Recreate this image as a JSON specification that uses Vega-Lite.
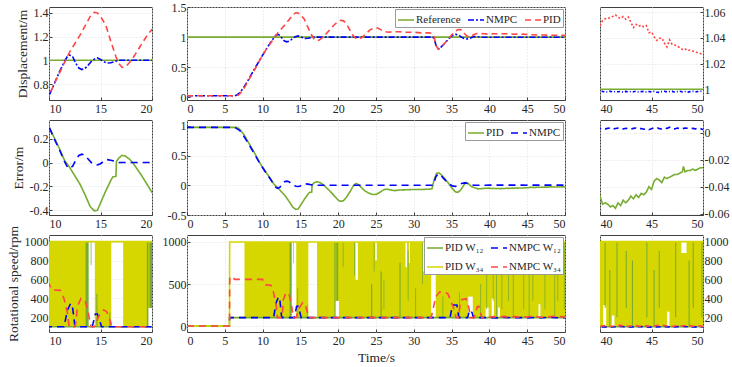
{
"$schema": "https://vega.github.io/schema/vega-lite/v6.json",
"background": "white",
"padding": {"left": 5, "top": 0, "right": 0, "bottom": 0},
"columns": 3,
"spacing": {"row": 20, "column": 35},
"bounds": "flush",
"resolve": {"scale": {"color": "independent", "strokeDash": "independent"}, "legend": {"color": "independent", "strokeDash": "independent"}},
"datasets": {
"disp": [
{"t":0,"s":"Reference","v":1},{"t":50,"s":"Reference","v":1},
{"t":0,"s":"NMPC","v":0.025},{"t":6.3,"s":"NMPC","v":0.025},{"t":6.6,"s":"NMPC","v":0.04},{"t":7,"s":"NMPC","v":0.075},{"t":7.5,"s":"NMPC","v":0.165},{"t":8,"s":"NMPC","v":0.265},{"t":8.5,"s":"NMPC","v":0.375},{"t":9,"s":"NMPC","v":0.485},{"t":9.5,"s":"NMPC","v":0.595},{"t":10,"s":"NMPC","v":0.7},{"t":10.5,"s":"NMPC","v":0.8},{"t":11,"s":"NMPC","v":0.9},{"t":11.5,"s":"NMPC","v":0.99},{"t":11.8,"s":"NMPC","v":1.035},{"t":12,"s":"NMPC","v":1.045},{"t":12.3,"s":"NMPC","v":1.03},{"t":12.6,"s":"NMPC","v":0.975},{"t":12.9,"s":"NMPC","v":0.935},{"t":13.2,"s":"NMPC","v":0.922},{"t":13.5,"s":"NMPC","v":0.932},{"t":13.8,"s":"NMPC","v":0.958},{"t":14.1,"s":"NMPC","v":0.99},{"t":14.4,"s":"NMPC","v":1.01},{"t":14.7,"s":"NMPC","v":1.02},{"t":15,"s":"NMPC","v":1.008},{"t":15.3,"s":"NMPC","v":0.99},{"t":15.6,"s":"NMPC","v":0.976},{"t":16,"s":"NMPC","v":0.98},{"t":16.4,"s":"NMPC","v":0.99},{"t":16.8,"s":"NMPC","v":1.0},{"t":32.5,"s":"NMPC","v":1.0},{"t":32.7,"s":"NMPC","v":0.97},{"t":32.9,"s":"NMPC","v":0.88},{"t":33.1,"s":"NMPC","v":0.82},{"t":33.3,"s":"NMPC","v":0.805},{"t":33.6,"s":"NMPC","v":0.835},{"t":34,"s":"NMPC","v":0.885},{"t":34.5,"s":"NMPC","v":0.955},{"t":35,"s":"NMPC","v":1.02},{"t":35.5,"s":"NMPC","v":1.045},{"t":35.9,"s":"NMPC","v":1.04},{"t":36.3,"s":"NMPC","v":1.0},{"t":36.7,"s":"NMPC","v":0.975},{"t":37.1,"s":"NMPC","v":0.968},{"t":37.5,"s":"NMPC","v":0.985},{"t":38,"s":"NMPC","v":1.01},{"t":38.5,"s":"NMPC","v":1.005},{"t":39,"s":"NMPC","v":0.999},{"t":39.5,"s":"NMPC","v":0.998},
{"t":40,"s":"NMPC","v":0.998},{"t":40.25,"s":"NMPC","v":0.9985},{"t":40.5,"s":"NMPC","v":0.9978},{"t":40.75,"s":"NMPC","v":0.9982},{"t":41,"s":"NMPC","v":0.9985},{"t":41.25,"s":"NMPC","v":0.9979},{"t":41.5,"s":"NMPC","v":0.9984},{"t":41.75,"s":"NMPC","v":0.9981},{"t":42,"s":"NMPC","v":0.9983},{"t":42.25,"s":"NMPC","v":0.9978},{"t":42.5,"s":"NMPC","v":0.9984},{"t":42.75,"s":"NMPC","v":0.998},{"t":43,"s":"NMPC","v":0.9983},{"t":43.25,"s":"NMPC","v":0.9981},{"t":43.5,"s":"NMPC","v":0.9985},{"t":43.75,"s":"NMPC","v":0.9979},{"t":44,"s":"NMPC","v":0.9982},{"t":44.25,"s":"NMPC","v":0.9984},{"t":44.5,"s":"NMPC","v":0.9979},{"t":44.75,"s":"NMPC","v":0.9983},{"t":45,"s":"NMPC","v":0.998},{"t":45.25,"s":"NMPC","v":0.9984},{"t":45.5,"s":"NMPC","v":0.9977},{"t":45.75,"s":"NMPC","v":0.9976},{"t":46,"s":"NMPC","v":0.9982},{"t":46.25,"s":"NMPC","v":0.9985},{"t":46.5,"s":"NMPC","v":0.998},{"t":46.75,"s":"NMPC","v":0.9983},{"t":47,"s":"NMPC","v":0.9984},{"t":47.25,"s":"NMPC","v":0.9979},{"t":47.5,"s":"NMPC","v":0.9982},{"t":47.75,"s":"NMPC","v":0.9985},{"t":48,"s":"NMPC","v":0.998},{"t":48.25,"s":"NMPC","v":0.9983},{"t":48.5,"s":"NMPC","v":0.9978},{"t":48.75,"s":"NMPC","v":0.9982},{"t":49,"s":"NMPC","v":0.9984},{"t":49.25,"s":"NMPC","v":0.998},{"t":49.5,"s":"NMPC","v":0.9983},{"t":49.75,"s":"NMPC","v":0.9985},{"t":50,"s":"NMPC","v":0.9982},
{"t":0,"s":"PID","v":0.025},{"t":6.5,"s":"PID","v":0.025},{"t":6.8,"s":"PID","v":0.038},{"t":7,"s":"PID","v":0.058},{"t":7.5,"s":"PID","v":0.14},{"t":8,"s":"PID","v":0.25},{"t":8.5,"s":"PID","v":0.36},{"t":9,"s":"PID","v":0.47},{"t":9.5,"s":"PID","v":0.59},{"t":10,"s":"PID","v":0.7},{"t":10.5,"s":"PID","v":0.8},{"t":11,"s":"PID","v":0.89},{"t":11.5,"s":"PID","v":0.98},{"t":12,"s":"PID","v":1.07},{"t":12.5,"s":"PID","v":1.14},{"t":13,"s":"PID","v":1.21},{"t":13.5,"s":"PID","v":1.29},{"t":14,"s":"PID","v":1.37},{"t":14.4,"s":"PID","v":1.405},{"t":14.7,"s":"PID","v":1.4},{"t":15,"s":"PID","v":1.37},{"t":15.5,"s":"PID","v":1.3},{"t":16,"s":"PID","v":1.16},{"t":16.5,"s":"PID","v":1.03},{"t":16.8,"s":"PID","v":0.97},{"t":17.1,"s":"PID","v":0.94},{"t":17.5,"s":"PID","v":0.95},{"t":17.9,"s":"PID","v":0.99},{"t":18.3,"s":"PID","v":1.04},{"t":18.8,"s":"PID","v":1.11},{"t":19.3,"s":"PID","v":1.18},{"t":19.7,"s":"PID","v":1.23},{"t":20,"s":"PID","v":1.26},{"t":20.3,"s":"PID","v":1.28},{"t":20.7,"s":"PID","v":1.27},{"t":21.1,"s":"PID","v":1.22},{"t":21.5,"s":"PID","v":1.13},{"t":22,"s":"PID","v":1.02},{"t":22.4,"s":"PID","v":0.97},{"t":22.8,"s":"PID","v":0.97},{"t":23.2,"s":"PID","v":1.0},{"t":23.7,"s":"PID","v":1.06},{"t":24.2,"s":"PID","v":1.12},{"t":24.7,"s":"PID","v":1.15},{"t":25.2,"s":"PID","v":1.15},{"t":25.7,"s":"PID","v":1.12},{"t":26.2,"s":"PID","v":1.09},{"t":26.7,"s":"PID","v":1.08},{"t":27.2,"s":"PID","v":1.09},{"t":28,"s":"PID","v":1.09},{"t":29,"s":"PID","v":1.08},{"t":30,"s":"PID","v":1.08},{"t":31,"s":"PID","v":1.07},{"t":32,"s":"PID","v":1.07},{"t":32.5,"s":"PID","v":1.06},{"t":32.7,"s":"PID","v":1.0},{"t":32.9,"s":"PID","v":0.88},{"t":33.2,"s":"PID","v":0.8},{"t":33.5,"s":"PID","v":0.81},{"t":33.9,"s":"PID","v":0.87},{"t":34.3,"s":"PID","v":0.93},{"t":34.7,"s":"PID","v":0.98},{"t":35.1,"s":"PID","v":1.05},{"t":35.5,"s":"PID","v":1.1},{"t":35.9,"s":"PID","v":1.125},{"t":36.3,"s":"PID","v":1.12},{"t":36.7,"s":"PID","v":1.06},{"t":37.1,"s":"PID","v":1.01},{"t":37.5,"s":"PID","v":1.0},{"t":37.9,"s":"PID","v":1.04},{"t":38.3,"s":"PID","v":1.06},{"t":38.8,"s":"PID","v":1.06},{"t":39.3,"s":"PID","v":1.055},{"t":39.7,"s":"PID","v":1.05},
{"t":40,"s":"PID","v":1.0495},{"t":40.25,"s":"PID","v":1.0535},{"t":40.5,"s":"PID","v":1.055},{"t":40.75,"s":"PID","v":1.0548},{"t":41,"s":"PID","v":1.056},{"t":41.25,"s":"PID","v":1.0567},{"t":41.5,"s":"PID","v":1.0578},{"t":41.75,"s":"PID","v":1.056},{"t":42,"s":"PID","v":1.055},{"t":42.25,"s":"PID","v":1.0565},{"t":42.5,"s":"PID","v":1.0545},{"t":42.75,"s":"PID","v":1.0562},{"t":43,"s":"PID","v":1.052},{"t":43.25,"s":"PID","v":1.048},{"t":43.5,"s":"PID","v":1.0505},{"t":43.75,"s":"PID","v":1.049},{"t":44,"s":"PID","v":1.05},{"t":44.25,"s":"PID","v":1.0485},{"t":44.5,"s":"PID","v":1.0495},{"t":44.75,"s":"PID","v":1.044},{"t":45,"s":"PID","v":1.0445},{"t":45.25,"s":"PID","v":1.041},{"t":45.5,"s":"PID","v":1.038},{"t":45.75,"s":"PID","v":1.0395},{"t":46,"s":"PID","v":1.04},{"t":46.25,"s":"PID","v":1.036},{"t":46.5,"s":"PID","v":1.033},{"t":46.75,"s":"PID","v":1.0385},{"t":47,"s":"PID","v":1.035},{"t":47.25,"s":"PID","v":1.0345},{"t":47.5,"s":"PID","v":1.0335},{"t":47.75,"s":"PID","v":1.0325},{"t":48,"s":"PID","v":1.031},{"t":48.25,"s":"PID","v":1.0315},{"t":48.5,"s":"PID","v":1.03},{"t":48.75,"s":"PID","v":1.0305},{"t":49,"s":"PID","v":1.0298},{"t":49.25,"s":"PID","v":1.029},{"t":49.5,"s":"PID","v":1.0285},{"t":49.75,"s":"PID","v":1.0278},{"t":50,"s":"PID","v":1.027}
],
"err": [
{"t":0,"s":"PID","v":0.975},{"t":6.5,"s":"PID","v":0.975},{"t":6.8,"s":"PID","v":0.96},{"t":7,"s":"PID","v":0.94},{"t":7.5,"s":"PID","v":0.86},{"t":8,"s":"PID","v":0.75},{"t":8.5,"s":"PID","v":0.64},{"t":9,"s":"PID","v":0.53},{"t":9.5,"s":"PID","v":0.41},{"t":10,"s":"PID","v":0.3},{"t":10.5,"s":"PID","v":0.21},{"t":11,"s":"PID","v":0.12},{"t":11.5,"s":"PID","v":0.02},{"t":12,"s":"PID","v":-0.04},{"t":12.5,"s":"PID","v":-0.11},{"t":13,"s":"PID","v":-0.18},{"t":13.5,"s":"PID","v":-0.27},{"t":14,"s":"PID","v":-0.37},{"t":14.4,"s":"PID","v":-0.405},{"t":14.7,"s":"PID","v":-0.4},{"t":15,"s":"PID","v":-0.34},{"t":15.5,"s":"PID","v":-0.24},{"t":16,"s":"PID","v":-0.15},{"t":16.2,"s":"PID","v":-0.12},{"t":16.5,"s":"PID","v":-0.115},{"t":16.55,"s":"PID","v":0.01},{"t":16.8,"s":"PID","v":0.04},{"t":17.1,"s":"PID","v":0.06},{"t":17.4,"s":"PID","v":0.055},{"t":17.8,"s":"PID","v":0.03},{"t":18.2,"s":"PID","v":-0.01},{"t":18.6,"s":"PID","v":-0.06},{"t":19,"s":"PID","v":-0.11},{"t":19.5,"s":"PID","v":-0.18},{"t":20,"s":"PID","v":-0.25},{"t":20.3,"s":"PID","v":-0.27},{"t":20.7,"s":"PID","v":-0.26},{"t":21.1,"s":"PID","v":-0.2},{"t":21.6,"s":"PID","v":-0.1},{"t":22,"s":"PID","v":-0.01},{"t":22.3,"s":"PID","v":0.03},{"t":22.6,"s":"PID","v":0.02},{"t":23,"s":"PID","v":-0.03},{"t":23.5,"s":"PID","v":-0.09},{"t":24,"s":"PID","v":-0.13},{"t":24.6,"s":"PID","v":-0.155},{"t":25.1,"s":"PID","v":-0.15},{"t":25.6,"s":"PID","v":-0.11},{"t":26.1,"s":"PID","v":-0.07},{"t":26.5,"s":"PID","v":-0.065},{"t":27,"s":"PID","v":-0.08},{"t":27.5,"s":"PID","v":-0.09},{"t":28,"s":"PID","v":-0.08},{"t":29,"s":"PID","v":-0.075},{"t":30,"s":"PID","v":-0.07},{"t":31,"s":"PID","v":-0.07},{"t":32,"s":"PID","v":-0.065},{"t":32.4,"s":"PID","v":-0.06},{"t":32.7,"s":"PID","v":0.1},{"t":33,"s":"PID","v":0.2},{"t":33.3,"s":"PID","v":0.21},{"t":33.7,"s":"PID","v":0.17},{"t":34.1,"s":"PID","v":0.11},{"t":34.5,"s":"PID","v":0.05},{"t":35,"s":"PID","v":-0.04},{"t":35.5,"s":"PID","v":-0.11},{"t":35.8,"s":"PID","v":-0.12},{"t":36.2,"s":"PID","v":-0.08},{"t":36.6,"s":"PID","v":0.0},{"t":36.9,"s":"PID","v":0.05},{"t":37.2,"s":"PID","v":0.03},{"t":37.6,"s":"PID","v":-0.02},{"t":38,"s":"PID","v":-0.04},{"t":38.5,"s":"PID","v":-0.06},{"t":39,"s":"PID","v":-0.055},{"t":39.5,"s":"PID","v":-0.05},
{"t":40,"s":"PID","v":-0.047},{"t":40.25,"s":"PID","v":-0.053},{"t":40.5,"s":"PID","v":-0.052},{"t":40.75,"s":"PID","v":-0.053},{"t":41,"s":"PID","v":-0.055},{"t":41.25,"s":"PID","v":-0.054},{"t":41.5,"s":"PID","v":-0.056},{"t":41.75,"s":"PID","v":-0.052},{"t":42,"s":"PID","v":-0.054},{"t":42.25,"s":"PID","v":-0.05},{"t":42.5,"s":"PID","v":-0.052},{"t":42.75,"s":"PID","v":-0.05},{"t":43,"s":"PID","v":-0.047},{"t":43.25,"s":"PID","v":-0.049},{"t":43.5,"s":"PID","v":-0.046},{"t":43.75,"s":"PID","v":-0.048},{"t":44,"s":"PID","v":-0.045},{"t":44.25,"s":"PID","v":-0.046},{"t":44.5,"s":"PID","v":-0.044},{"t":44.75,"s":"PID","v":-0.04},{"t":45,"s":"PID","v":-0.042},{"t":45.25,"s":"PID","v":-0.036},{"t":45.5,"s":"PID","v":-0.034},{"t":45.75,"s":"PID","v":-0.035},{"t":46,"s":"PID","v":-0.037},{"t":46.25,"s":"PID","v":-0.033},{"t":46.5,"s":"PID","v":-0.034},{"t":46.75,"s":"PID","v":-0.033},{"t":47,"s":"PID","v":-0.032},{"t":47.25,"s":"PID","v":-0.031},{"t":47.5,"s":"PID","v":-0.031},{"t":47.75,"s":"PID","v":-0.03},{"t":48,"s":"PID","v":-0.029},{"t":48.1,"s":"PID","v":-0.025},{"t":48.25,"s":"PID","v":-0.029},{"t":48.5,"s":"PID","v":-0.028},{"t":48.75,"s":"PID","v":-0.028},{"t":49,"s":"PID","v":-0.027},{"t":49.25,"s":"PID","v":-0.028},{"t":49.5,"s":"PID","v":-0.027},{"t":49.75,"s":"PID","v":-0.026},{"t":50,"s":"PID","v":-0.026},
{"t":0,"s":"NMPC","v":0.975},{"t":6.3,"s":"NMPC","v":0.975},{"t":6.6,"s":"NMPC","v":0.955},{"t":7,"s":"NMPC","v":0.92},{"t":7.5,"s":"NMPC","v":0.83},{"t":8,"s":"NMPC","v":0.73},{"t":8.5,"s":"NMPC","v":0.62},{"t":9,"s":"NMPC","v":0.51},{"t":9.5,"s":"NMPC","v":0.4},{"t":10,"s":"NMPC","v":0.3},{"t":10.5,"s":"NMPC","v":0.2},{"t":11,"s":"NMPC","v":0.11},{"t":11.5,"s":"NMPC","v":0.01},{"t":11.8,"s":"NMPC","v":-0.04},{"t":12,"s":"NMPC","v":-0.05},{"t":12.3,"s":"NMPC","v":-0.03},{"t":12.6,"s":"NMPC","v":0.02},{"t":12.9,"s":"NMPC","v":0.06},{"t":13.2,"s":"NMPC","v":0.07},{"t":13.5,"s":"NMPC","v":0.06},{"t":13.8,"s":"NMPC","v":0.03},{"t":14.1,"s":"NMPC","v":0.0},{"t":14.4,"s":"NMPC","v":-0.015},{"t":14.7,"s":"NMPC","v":-0.02},{"t":15,"s":"NMPC","v":-0.01},{"t":15.3,"s":"NMPC","v":0.01},{"t":15.6,"s":"NMPC","v":0.025},{"t":16,"s":"NMPC","v":0.02},{"t":16.4,"s":"NMPC","v":0.01},{"t":16.8,"s":"NMPC","v":0.0},{"t":32.5,"s":"NMPC","v":0.0},{"t":32.7,"s":"NMPC","v":0.05},{"t":32.9,"s":"NMPC","v":0.14},{"t":33.2,"s":"NMPC","v":0.19},{"t":33.5,"s":"NMPC","v":0.18},{"t":33.9,"s":"NMPC","v":0.12},{"t":34.3,"s":"NMPC","v":0.07},{"t":34.7,"s":"NMPC","v":0.02},{"t":35.1,"s":"NMPC","v":-0.01},{"t":35.5,"s":"NMPC","v":-0.02},{"t":35.9,"s":"NMPC","v":0.0},{"t":36.3,"s":"NMPC","v":0.03},{"t":36.7,"s":"NMPC","v":0.04},{"t":37.1,"s":"NMPC","v":0.03},{"t":37.5,"s":"NMPC","v":0.01},{"t":38,"s":"NMPC","v":0.0},{"t":39,"s":"NMPC","v":0.001},{"t":39.5,"s":"NMPC","v":0.002},
{"t":40,"s":"NMPC","v":0.003},{"t":40.25,"s":"NMPC","v":0.0035},{"t":40.5,"s":"NMPC","v":0.0028},{"t":40.75,"s":"NMPC","v":0.0032},{"t":41,"s":"NMPC","v":0.0035},{"t":41.25,"s":"NMPC","v":0.0027},{"t":41.5,"s":"NMPC","v":0.0031},{"t":41.75,"s":"NMPC","v":0.0034},{"t":42,"s":"NMPC","v":0.003},{"t":42.25,"s":"NMPC","v":0.0028},{"t":42.5,"s":"NMPC","v":0.0033},{"t":42.75,"s":"NMPC","v":0.003},{"t":43,"s":"NMPC","v":0.0027},{"t":43.25,"s":"NMPC","v":0.0032},{"t":43.5,"s":"NMPC","v":0.0035},{"t":43.75,"s":"NMPC","v":0.0029},{"t":44,"s":"NMPC","v":0.0031},{"t":44.25,"s":"NMPC","v":0.0026},{"t":44.5,"s":"NMPC","v":0.003},{"t":44.75,"s":"NMPC","v":0.0022},{"t":45,"s":"NMPC","v":0.003},{"t":45.25,"s":"NMPC","v":0.0036},{"t":45.5,"s":"NMPC","v":0.004},{"t":45.75,"s":"NMPC","v":0.003},{"t":46,"s":"NMPC","v":0.0027},{"t":46.25,"s":"NMPC","v":0.0035},{"t":46.5,"s":"NMPC","v":0.0032},{"t":46.75,"s":"NMPC","v":0.0041},{"t":47,"s":"NMPC","v":0.003},{"t":47.25,"s":"NMPC","v":0.0028},{"t":47.5,"s":"NMPC","v":0.0034},{"t":47.75,"s":"NMPC","v":0.0031},{"t":48,"s":"NMPC","v":0.0029},{"t":48.25,"s":"NMPC","v":0.0035},{"t":48.5,"s":"NMPC","v":0.0033},{"t":48.75,"s":"NMPC","v":0.003},{"t":49,"s":"NMPC","v":0.0032},{"t":49.25,"s":"NMPC","v":0.0028},{"t":49.5,"s":"NMPC","v":0.0034},{"t":49.75,"s":"NMPC","v":0.003},{"t":50,"s":"NMPC","v":0.0022}
],
"rpm": [
{"t":0,"s":"PID W₁₂","v":0},{"t":5.6,"s":"PID W₁₂","v":0},{"t":5.62,"s":"PID W₁₂","v":100},{"t":50,"s":"PID W₁₂","v":100},
{"t":0,"s":"NMPC W₁₂","v":0},{"t":5.6,"s":"NMPC W₁₂","v":0},{"t":5.65,"s":"NMPC W₁₂","v":100},{"t":11.45,"s":"NMPC W₁₂","v":100},{"t":11.8,"s":"NMPC W₁₂","v":278},{"t":12.1,"s":"NMPC W₁₂","v":348},{"t":12.3,"s":"NMPC W₁₂","v":295},{"t":12.5,"s":"NMPC W₁₂","v":119},{"t":12.6,"s":"NMPC W₁₂","v":100},{"t":14.2,"s":"NMPC W₁₂","v":100},{"t":14.5,"s":"NMPC W₁₂","v":235},{"t":14.7,"s":"NMPC W₁₂","v":235},{"t":15.0,"s":"NMPC W₁₂","v":137},{"t":15.1,"s":"NMPC W₁₂","v":100},{"t":34.8,"s":"NMPC W₁₂","v":100},{"t":35.1,"s":"NMPC W₁₂","v":250},{"t":35.7,"s":"NMPC W₁₂","v":250},{"t":35.9,"s":"NMPC W₁₂","v":130},{"t":36.0,"s":"NMPC W₁₂","v":100},{"t":37.1,"s":"NMPC W₁₂","v":100},{"t":37.4,"s":"NMPC W₁₂","v":190},{"t":37.7,"s":"NMPC W₁₂","v":160},{"t":37.9,"s":"NMPC W₁₂","v":100},{"t":40,"s":"NMPC W₁₂","v":100},{"t":41,"s":"NMPC W₁₂","v":97},{"t":42,"s":"NMPC W₁₂","v":103},{"t":43,"s":"NMPC W₁₂","v":98},{"t":44,"s":"NMPC W₁₂","v":102},{"t":45,"s":"NMPC W₁₂","v":97},{"t":46,"s":"NMPC W₁₂","v":101},{"t":47,"s":"NMPC W₁₂","v":99},{"t":48,"s":"NMPC W₁₂","v":103},{"t":49,"s":"NMPC W₁₂","v":98},{"t":50,"s":"NMPC W₁₂","v":100},
{"t":0,"s":"PID W₃₄","v":0},{"t":5.62,"s":"PID W₃₄","v":0},{"t":5.64,"s":"PID W₃₄","v":1000},{"t":50,"s":"PID W₃₄","v":1000},
{"t":0,"s":"NMPC W₃₄","v":0},{"t":5.62,"s":"NMPC W₃₄","v":0},{"t":5.65,"s":"NMPC W₃₄","v":568},{"t":5.9,"s":"NMPC W₃₄","v":595},{"t":6.3,"s":"NMPC W₃₄","v":555},{"t":10.0,"s":"NMPC W₃₄","v":555},{"t":10.3,"s":"NMPC W₃₄","v":490},{"t":11.1,"s":"NMPC W₃₄","v":485},{"t":11.45,"s":"NMPC W₃₄","v":400},{"t":11.8,"s":"NMPC W₃₄","v":242},{"t":11.95,"s":"NMPC W₃₄","v":100},{"t":12.5,"s":"NMPC W₃₄","v":100},{"t":12.6,"s":"NMPC W₃₄","v":137},{"t":12.75,"s":"NMPC W₃₄","v":313},{"t":13.1,"s":"NMPC W₃₄","v":400},{"t":13.5,"s":"NMPC W₃₄","v":376},{"t":13.8,"s":"NMPC W₃₄","v":260},{"t":14.0,"s":"NMPC W₃₄","v":137},{"t":14.1,"s":"NMPC W₃₄","v":100},{"t":14.4,"s":"NMPC W₃₄","v":100},{"t":14.5,"s":"NMPC W₃₄","v":119},{"t":14.8,"s":"NMPC W₃₄","v":207},{"t":15.3,"s":"NMPC W₃₄","v":278},{"t":15.6,"s":"NMPC W₃₄","v":260},{"t":15.97,"s":"NMPC W₃₄","v":154},{"t":16.1,"s":"NMPC W₃₄","v":100},{"t":32.3,"s":"NMPC W₃₄","v":100},{"t":32.9,"s":"NMPC W₃₄","v":345},{"t":33.4,"s":"NMPC W₃₄","v":405},{"t":34.0,"s":"NMPC W₃₄","v":405},{"t":34.5,"s":"NMPC W₃₄","v":385},{"t":35.2,"s":"NMPC W₃₄","v":230},{"t":35.5,"s":"NMPC W₃₄","v":131},{"t":35.6,"s":"NMPC W₃₄","v":100},{"t":35.9,"s":"NMPC W₃₄","v":100},{"t":36.2,"s":"NMPC W₃₄","v":310},{"t":36.9,"s":"NMPC W₃₄","v":325},{"t":37.3,"s":"NMPC W₃₄","v":210},{"t":37.5,"s":"NMPC W₃₄","v":100},{"t":38.0,"s":"NMPC W₃₄","v":100},{"t":38.4,"s":"NMPC W₃₄","v":230},{"t":38.6,"s":"NMPC W₃₄","v":235},{"t":39.0,"s":"NMPC W₃₄","v":100},{"t":40,"s":"NMPC W₃₄","v":105},{"t":40.5,"s":"NMPC W₃₄","v":112},{"t":41,"s":"NMPC W₃₄","v":103},{"t":41.5,"s":"NMPC W₃₄","v":110},{"t":42,"s":"NMPC W₃₄","v":115},{"t":42.5,"s":"NMPC W₃₄","v":104},{"t":43,"s":"NMPC W₃₄","v":108},{"t":43.5,"s":"NMPC W₃₄","v":112},{"t":44,"s":"NMPC W₃₄","v":103},{"t":44.5,"s":"NMPC W₃₄","v":110},{"t":45,"s":"NMPC W₃₄","v":106},{"t":45.5,"s":"NMPC W₃₄","v":113},{"t":46,"s":"NMPC W₃₄","v":118},{"t":46.5,"s":"NMPC W₃₄","v":108},{"t":47,"s":"NMPC W₃₄","v":104},{"t":47.5,"s":"NMPC W₃₄","v":112},{"t":48,"s":"NMPC W₃₄","v":109},{"t":48.5,"s":"NMPC W₃₄","v":116},{"t":49,"s":"NMPC W₃₄","v":106},{"t":49.5,"s":"NMPC W₃₄","v":112},{"t":50,"s":"NMPC W₃₄","v":104}
],
"bandY": [
{"t":7.6,"t1":13.6,"v":100,"v1":1000},{"t":14.45,"t1":16.05,"v":100,"v1":1000},{"t":17.2,"t1":32.3,"v":100,"v1":1000},{"t":32.9,"t1":50,"v":100,"v1":1000}
],
"gap": [
{"t":19.6,"t1":20.1,"v":100,"v1":300},{"t":22.3,"t1":22.6,"v":550,"v1":1000},{"t":24.9,"t1":25.1,"v":780,"v1":1000},{"t":28.9,"t1":29.1,"v":700,"v1":1000},{"t":29.35,"t1":29.5,"v":750,"v1":1000},{"t":31.2,"t1":32.3,"v":650,"v1":1000},{"t":37.2,"t1":37.8,"v":100,"v1":350},{"t":39.5,"t1":39.9,"v":100,"v1":220},
{"t":40.3,"t1":40.6,"v":100,"v1":330},{"t":41.15,"t1":41.4,"v":100,"v1":220},{"t":46.5,"t1":46.75,"v":100,"v1":260},{"t":47.9,"t1":48.4,"v":880,"v1":1000}
],
"bandG": [
{"t":13.55,"t1":13.85,"v":100,"v1":1000},{"t":14.05,"t1":14.12,"v":750,"v1":1000},{"t":14.6,"t1":14.7,"v":100,"v1":450},{"t":15.85,"t1":15.95,"v":100,"v1":250},{"t":19.5,"t1":19.65,"v":100,"v1":1000},{"t":19.75,"t1":20.0,"v":300,"v1":1000},{"t":20.6,"t1":20.7,"v":700,"v1":1000},{"t":22.1,"t1":22.2,"v":600,"v1":1000},{"t":24.35,"t1":24.5,"v":100,"v1":500},{"t":24.7,"t1":24.8,"v":650,"v1":1000},{"t":25.6,"t1":25.75,"v":100,"v1":650},{"t":26.0,"t1":26.1,"v":200,"v1":550},{"t":28.1,"t1":28.25,"v":100,"v1":750},{"t":29.2,"t1":29.3,"v":300,"v1":900},{"t":30.2,"t1":30.3,"v":100,"v1":450},{"t":31.1,"t1":31.2,"v":500,"v1":1000},{"t":33.8,"t1":33.9,"v":100,"v1":350},{"t":36.0,"t1":36.1,"v":100,"v1":400},{"t":38.8,"t1":38.9,"v":100,"v1":500},{"t":39.6,"t1":39.7,"v":200,"v1":700},{"t":40.45,"t1":40.55,"v":300,"v1":1000},{"t":40.9,"t1":41.0,"v":100,"v1":700},{"t":41.6,"t1":41.7,"v":200,"v1":1000},{"t":42.5,"t1":42.6,"v":300,"v1":900},{"t":43.1,"t1":43.2,"v":100,"v1":800},{"t":44.5,"t1":44.6,"v":200,"v1":1000},{"t":45.2,"t1":45.3,"v":100,"v1":700},{"t":45.7,"t1":45.8,"v":300,"v1":900},{"t":47.3,"t1":47.4,"v":200,"v1":1000},{"t":48.6,"t1":48.7,"v":100,"v1":800},{"t":49.0,"t1":49.1,"v":300,"v1":1000},{"t":49.85,"t1":49.95,"v":200,"v1":1000}
]
},
"concat": [
{"width":103,"height":93,"data":{"name":"disp"},"mark":{"type":"line","clip":true,"strokeWidth":1.6},
 "encoding":{
  "x":{"field":"t","type":"quantitative","scale":{"domain":[10,20],"nice":false},"axis":{"values":[10,15,20],"title":null}},
  "y":{"field":"v","type":"quantitative","scale":{"domain":[0.665,1.45],"nice":false,"zero":false},"axis":{"values":[0.8,1,1.2,1.4],"title":"Displacement/m","labelExpr":"replace(format(datum.value, '~g'), '\u2212', '-')"}},
  "color":{"field":"s","type":"nominal","scale":{"domain":["Reference","NMPC","PID"],"range":["#77AC30","#0000FF","#FF4545"]},"legend":null},
  "strokeDash":{"field":"s","type":"nominal","scale":{"domain":["Reference","NMPC","PID"],"range":[[1,0],[6,2,2,2],[6,4]]},"legend":null}}},
{"width":378,"height":93,"data":{"name":"disp"},"mark":{"type":"line","clip":true,"strokeWidth":1.6},
 "encoding":{
  "x":{"field":"t","type":"quantitative","scale":{"domain":[0,50],"nice":false},"axis":{"values":[0,5,10,15,20,25,30,35,40,45,50],"title":null}},
  "y":{"field":"v","type":"quantitative","scale":{"domain":[-0.045,1.5],"nice":false,"zero":false},"axis":{"values":[0,0.5,1,1.5],"title":null,"labelExpr":"replace(format(datum.value, '~g'), '\u2212', '-')"}},
  "color":{"field":"s","type":"nominal","scale":{"domain":["Reference","NMPC","PID"],"range":["#77AC30","#0000FF","#FF4545"]},"legend":{"orient":"top-right","direction":"horizontal","title":null,"offset":2,"padding":2,"fillColor":"white","strokeColor":"#9a9a9a","symbolType":"stroke","symbolSize":256,"symbolStrokeWidth":1.6,"columnPadding":3,"labelOffset":1,"labelFontSize":11}},
  "strokeDash":{"field":"s","type":"nominal","scale":{"domain":["Reference","NMPC","PID"],"range":[[1,0],[6,2,2,2],[6,4]]},"legend":{"orient":"top-right","direction":"horizontal","title":null,"offset":2,"padding":2,"fillColor":"white","strokeColor":"#9a9a9a","symbolType":"stroke","symbolSize":256,"symbolStrokeWidth":1.6,"columnPadding":3,"labelOffset":1,"labelFontSize":11}}}},
{"width":103,"height":93,"data":{"name":"disp"},"mark":{"type":"line","clip":true,"strokeWidth":1.6},
 "encoding":{
  "x":{"field":"t","type":"quantitative","scale":{"domain":[40,50],"nice":false},"axis":{"values":[40,45,50],"title":null}},
  "y":{"field":"v","type":"quantitative","scale":{"domain":[0.9917,1.064],"nice":false,"zero":false},"axis":{"orient":"right","values":[1,1.02,1.04,1.06],"title":null,"labelExpr":"replace(format(datum.value, '~g'), '\u2212', '-')"}},
  "color":{"field":"s","type":"nominal","scale":{"domain":["Reference","NMPC","PID"],"range":["#77AC30","#0000FF","#FF4545"]},"legend":null},
  "strokeDash":{"field":"s","type":"nominal","scale":{"domain":["Reference","NMPC","PID"],"range":[[1,0],[3,2,1,2],[2,2]]},"legend":null}}},
{"width":103,"height":95,"data":{"name":"err"},"mark":{"type":"line","clip":true,"strokeWidth":1.6},
 "encoding":{
  "x":{"field":"t","type":"quantitative","scale":{"domain":[10,20],"nice":false},"axis":{"values":[10,15,20],"title":null}},
  "y":{"field":"v","type":"quantitative","scale":{"domain":[-0.44,0.357],"nice":false,"zero":false},"axis":{"values":[-0.4,-0.2,0,0.2],"title":"Error/m","labelExpr":"replace(format(datum.value, '~g'), '\u2212', '-')"}},
  "color":{"field":"s","type":"nominal","scale":{"domain":["PID","NMPC"],"range":["#77AC30","#0000FF"]},"legend":null},
  "strokeDash":{"field":"s","type":"nominal","scale":{"domain":["PID","NMPC"],"range":[[1,0],[7,5]]},"legend":null}}},
{"width":378,"height":95,"data":{"name":"err"},"mark":{"type":"line","clip":true,"strokeWidth":1.6},
 "encoding":{
  "x":{"field":"t","type":"quantitative","scale":{"domain":[0,50],"nice":false},"axis":{"values":[0,5,10,15,20,25,30,35,40,45,50],"title":null}},
  "y":{"field":"v","type":"quantitative","scale":{"domain":[-0.5,1.1],"nice":false,"zero":false},"axis":{"values":[-0.5,0,0.5,1],"title":null,"labelExpr":"replace(format(datum.value, '~g'), '\u2212', '-')"}},
  "color":{"field":"s","type":"nominal","scale":{"domain":["PID","NMPC"],"range":["#77AC30","#0000FF"]},"legend":{"orient":"top-right","direction":"horizontal","title":null,"offset":2,"padding":2,"fillColor":"white","strokeColor":"#9a9a9a","symbolType":"stroke","symbolSize":256,"symbolStrokeWidth":1.6,"columnPadding":3,"labelOffset":1,"labelFontSize":11}},
  "strokeDash":{"field":"s","type":"nominal","scale":{"domain":["PID","NMPC"],"range":[[1,0],[7,5]]},"legend":{"orient":"top-right","direction":"horizontal","title":null,"offset":2,"padding":2,"fillColor":"white","strokeColor":"#9a9a9a","symbolType":"stroke","symbolSize":256,"symbolStrokeWidth":1.6,"columnPadding":3,"labelOffset":1,"labelFontSize":11}}}},
{"width":103,"height":95,"data":{"name":"err"},"mark":{"type":"line","clip":true,"strokeWidth":1.6},
 "encoding":{
  "x":{"field":"t","type":"quantitative","scale":{"domain":[40,50],"nice":false},"axis":{"values":[40,45,50],"title":null}},
  "y":{"field":"v","type":"quantitative","scale":{"domain":[-0.061,0.0094],"nice":false,"zero":false},"axis":{"orient":"right","values":[-0.06,-0.04,-0.02,0],"title":null,"labelExpr":"replace(format(datum.value, '~g'), '\u2212', '-')"}},
  "color":{"field":"s","type":"nominal","scale":{"domain":["PID","NMPC"],"range":["#77AC30","#0000FF"]},"legend":null},
  "strokeDash":{"field":"s","type":"nominal","scale":{"domain":["PID","NMPC"],"range":[[1,0],[5,4]]},"legend":null}}},
{"width":103,"height":97,
 "encoding":{
  "x":{"field":"t","type":"quantitative","scale":{"domain":[10,20],"nice":false},"axis":{"values":[10,15,20],"title":null}},
  "y":{"field":"v","type":"quantitative","scale":{"domain":[45,1070],"nice":false,"zero":false},"axis":{"values":[200,400,600,800,1000],"title":"Rotational speed/rpm","labelExpr":"replace(format(datum.value, '~g'), '\u2212', '-')"}}},
 "layer":[
  {"data":{"name":"bandY"},"mark":{"type":"rect","clip":true,"color":"#D6D600"},"encoding":{"x2":{"field":"t1"},"y2":{"field":"v1"}}},
  {"data":{"name":"gap"},"mark":{"type":"rect","clip":true,"color":"#FFFFFF"},"encoding":{"x2":{"field":"t1"},"y2":{"field":"v1"}}},
  {"data":{"name":"bandG"},"mark":{"type":"rect","clip":true,"color":"#77AC30"},"encoding":{"x2":{"field":"t1"},"y2":{"field":"v1"}}},
  {"data":{"name":"rpm"},"mark":{"type":"line","clip":true,"strokeWidth":1.6},"encoding":{
   "color":{"field":"s","type":"nominal","scale":{"domain":["PID W₁₂","NMPC W₁₂","PID W₃₄","NMPC W₃₄"],"range":["#77AC30","#0000FF","#D6D600","#FF4545"]},"legend":null},
   "strokeDash":{"field":"s","type":"nominal","scale":{"domain":["PID W₁₂","NMPC W₁₂","PID W₃₄","NMPC W₃₄"],"range":[[1,0],[7,5],[1,0],[7,5]]},"legend":null}}}
 ]},
{"width":378,"height":97,
 "encoding":{
  "x":{"field":"t","type":"quantitative","scale":{"domain":[0,50],"nice":false},"axis":{"values":[0,5,10,15,20,25,30,35,40,45,50],"title":"Time/s"}},
  "y":{"field":"v","type":"quantitative","scale":{"domain":[-71,1083],"nice":false,"zero":false},"axis":{"values":[0,500,1000],"title":null,"labelExpr":"replace(format(datum.value, '~g'), '\u2212', '-')"}}},
 "layer":[
  {"data":{"name":"bandY"},"mark":{"type":"rect","clip":true,"color":"#D6D600"},"encoding":{"x2":{"field":"t1"},"y2":{"field":"v1"}}},
  {"data":{"name":"gap"},"mark":{"type":"rect","clip":true,"color":"#FFFFFF"},"encoding":{"x2":{"field":"t1"},"y2":{"field":"v1"}}},
  {"data":{"name":"bandG"},"mark":{"type":"rect","clip":true,"color":"#77AC30"},"encoding":{"x2":{"field":"t1"},"y2":{"field":"v1"}}},
  {"data":{"name":"rpm"},"mark":{"type":"line","clip":true,"strokeWidth":1.6},"encoding":{
   "color":{"field":"s","type":"nominal","scale":{"domain":["PID W₁₂","NMPC W₁₂","PID W₃₄","NMPC W₃₄"],"range":["#77AC30","#0000FF","#D6D600","#FF4545"]},"legend":{"orient":"top-right","columns":2,"direction":"horizontal","title":null,"offset":2,"padding":2,"fillColor":"white","strokeColor":"#9a9a9a","symbolType":"stroke","symbolSize":256,"symbolStrokeWidth":1.6,"columnPadding":3,"rowPadding":5,"labelOffset":1,"labelFontSize":11}},
   "strokeDash":{"field":"s","type":"nominal","scale":{"domain":["PID W₁₂","NMPC W₁₂","PID W₃₄","NMPC W₃₄"],"range":[[1,0],[7,5],[1,0],[7,5]]},"legend":{"orient":"top-right","columns":2,"direction":"horizontal","title":null,"offset":2,"padding":2,"fillColor":"white","strokeColor":"#9a9a9a","symbolType":"stroke","symbolSize":256,"symbolStrokeWidth":1.6,"columnPadding":3,"rowPadding":5,"labelOffset":1,"labelFontSize":11}}}}
 ]},
{"width":103,"height":97,
 "encoding":{
  "x":{"field":"t","type":"quantitative","scale":{"domain":[40,50],"nice":false},"axis":{"values":[40,45,50],"title":null}},
  "y":{"field":"v","type":"quantitative","scale":{"domain":[45,1070],"nice":false,"zero":false},"axis":{"orient":"right","values":[200,400,600,800,1000],"title":null,"labelExpr":"replace(format(datum.value, '~g'), '\u2212', '-')"}}},
 "layer":[
  {"data":{"name":"bandY"},"mark":{"type":"rect","clip":true,"color":"#D6D600"},"encoding":{"x2":{"field":"t1"},"y2":{"field":"v1"}}},
  {"data":{"name":"gap"},"mark":{"type":"rect","clip":true,"color":"#FFFFFF"},"encoding":{"x2":{"field":"t1"},"y2":{"field":"v1"}}},
  {"data":{"name":"bandG"},"mark":{"type":"rect","clip":true,"color":"#77AC30"},"encoding":{"x2":{"field":"t1"},"y2":{"field":"v1"}}},
  {"data":{"name":"rpm"},"mark":{"type":"line","clip":true,"strokeWidth":1.6},"encoding":{
   "color":{"field":"s","type":"nominal","scale":{"domain":["PID W₁₂","NMPC W₁₂","PID W₃₄","NMPC W₃₄"],"range":["#77AC30","#0000FF","#D6D600","#FF4545"]},"legend":null},
   "strokeDash":{"field":"s","type":"nominal","scale":{"domain":["PID W₁₂","NMPC W₁₂","PID W₃₄","NMPC W₃₄"],"range":[[1,0],[5,4],[1,0],[5,4]]},"legend":null}}}
 ]}
],
"config": {
 "font": "Liberation Serif",
 "view": {"stroke": "#404040", "strokeWidth": 1},
 "axis": {"labelFont": "Liberation Serif", "labelFontSize": 12, "labelColor": "#262626", "titleFont": "Liberation Serif", "titleFontSize": 13.5, "titleFontWeight": "normal", "titleColor": "#262626", "domain": false, "ticks": true, "tickSize": -3, "tickColor": "#404040", "grid": true, "gridColor": "#dedede", "gridDash": [1, 2], "titlePadding": 4},
 "axisX": {"labelPadding": 6},
 "axisY": {"labelPadding": 4},
 "legend": {"labelFont": "Liberation Serif", "labelFontSize": 11, "labelColor": "#262626"}
}
}
